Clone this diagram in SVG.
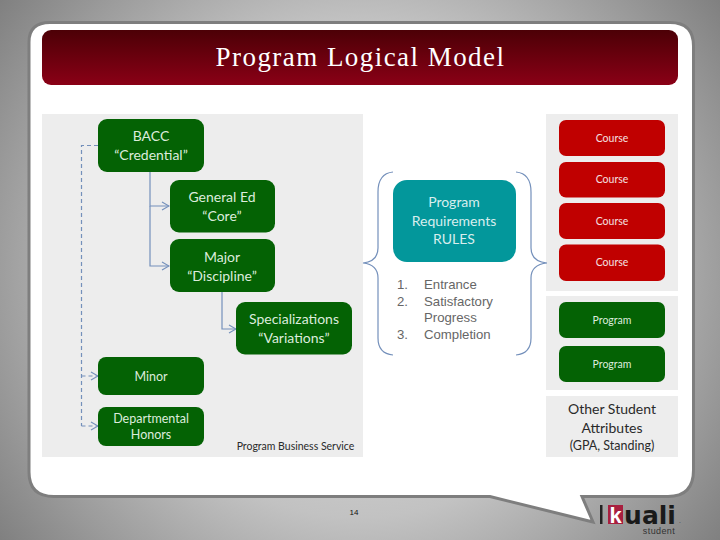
<svg xmlns="http://www.w3.org/2000/svg" width="720" height="540" viewBox="0 0 720 540">
<style>
.g{fill:#046204}.r{fill:#c00000}.p{fill:#ededed}
text{font-family:"Lato","Open Sans","Liberation Sans",sans-serif;text-anchor:middle}
.w{fill:#dcecdc;font-size:14px}.c{fill:#f4e0e0;font-size:10.5px}.cg{fill:#dcecdc;font-size:10.5px}.s{fill:#dcecdc;font-size:12.5px}
.l{font-family:"Liberation Sans",sans-serif;fill:#666;font-size:13.2px;text-anchor:start}
.k{fill:#2a2a2a;text-anchor:middle}
.cn{fill:none;stroke:#7490bb;stroke-width:1.2}
.d{stroke-dasharray:4 3}
</style>
<defs>
<radialGradient id="bg" gradientUnits="userSpaceOnUse" cx="360" cy="270" r="450">
<stop offset="0" stop-color="#e4e4e4"/><stop offset="0.55" stop-color="#c2c2c2"/><stop offset="1" stop-color="#808080"/>
</radialGradient>
<linearGradient id="hd" x1="0" y1="0" x2="0" y2="1"><stop offset="0" stop-color="#4c0006"/><stop offset="1" stop-color="#8a0016"/></linearGradient>
<marker id="a" markerWidth="9" markerHeight="10" refX="8" refY="5" orient="auto" markerUnits="userSpaceOnUse"><path d="M1 1L8 5L1 9" fill="none" stroke="#7490bb" stroke-width="1.2"/></marker>
</defs>
<rect width="720" height="540" fill="url(#bg)"/>
<path id="panel" d="M50 22.500H670Q693.500 22.500 693.500 46V470Q693.500 496.500 668 496.500H582L593 522L490 496.500H54Q29 496.500 29 472V42Q29 22.500 50 22.500Z" fill="#fff" stroke="#7e7e7e" stroke-width="3"/>
<g id="header"><rect x="42" y="30" width="636" height="55" rx="9" fill="url(#hd)"/>
<text x="360.500" y="66" style="font-family:'Liberation Serif',serif;font-size:27px;fill:#fff;letter-spacing:1.45px">Program Logical Model</text></g>
<rect class="p" x="42" y="114" width="321" height="343"/>
<rect class="p" x="546" y="114" width="132" height="177"/>
<rect class="p" x="546" y="296" width="132" height="94"/>
<g id="connectors">
<path class="cn" marker-end="url(#a)" d="M150 172V206H169"/>
<path class="cn" marker-end="url(#a)" d="M150 206V266H169"/>
<path class="cn" marker-end="url(#a)" d="M222 292V329H236"/>
<path class="cn d" d="M98 145.500H81.500V426"/>
<path class="cn d" marker-end="url(#a)" d="M81.500 376H98"/>
<path class="cn d" marker-end="url(#a)" d="M81.500 426H98"/>
<path class="cn" d="M393 172C383 173 378 180 378 192V248C378 257 372 262 363 263C372 264 378 269 378 278V338C378 348 383 354 393 355"/>
<path class="cn" d="M516 172C526 173 531 180 531 192V248C531 257 537 262 547 263C537 264 531 269 531 278V338C531 348 526 354 516 355"/>
</g>
<g id="bacc"><rect class="g" x="98" y="119" width="106" height="53" rx="9"/><text class="w" x="151" y="141">BACC</text><text class="w" x="151" y="160">“Credential”</text></g>
<g id="gened"><rect class="g" x="170" y="180" width="105" height="52.500" rx="9"/><text class="w" x="222" y="202">General Ed</text><text class="w" x="222" y="221">“Core”</text></g>
<g id="major"><rect class="g" x="170" y="239" width="105" height="53" rx="9"/><text class="w" x="222" y="262">Major</text><text class="w" x="222" y="281">“Discipline”</text></g>
<g id="spec"><rect class="g" x="236" y="302" width="116" height="52.500" rx="9"/><text class="w" x="294" y="324">Specializations</text><text class="w" x="294" y="343">“Variations”</text></g>
<g id="minor"><rect class="g" x="98" y="357" width="106" height="38" rx="8"/><text class="s" x="151" y="381">Minor</text></g>
<g id="honors"><rect class="g" x="98" y="407" width="106" height="39" rx="8"/><text class="s" x="151" y="423">Departmental</text><text class="s" x="151" y="439">Honors</text></g>
<text class="k" x="295.500" y="450" style="font-size:10.500px">Program Business Service</text>
<g id="rules"><rect x="393" y="180" width="123" height="82" rx="14" fill="#03979b"/>
<g fill="#d8eeee" style="font-size:14px"><text x="454" y="207">Program</text><text x="454" y="226">Requirements</text><text x="454" y="244">RULES</text></g></g>
<g id="rule-list">
<text class="l" x="397" y="289">1.</text><text class="l" x="424" y="289">Entrance</text>
<text class="l" x="397" y="306">2.</text><text class="l" x="424" y="306">Satisfactory</text>
<text class="l" x="424" y="322">Progress</text>
<text class="l" x="397" y="339">3.</text><text class="l" x="424" y="339">Completion</text></g>
<g id="course1"><rect class="r" x="559" y="120" width="106" height="36" rx="7"/><text class="c" x="612" y="142">Course</text></g>
<g id="course2"><rect class="r" x="559" y="162" width="106" height="35.500" rx="7"/><text class="c" x="612" y="183">Course</text></g>
<g id="course3"><rect class="r" x="559" y="203" width="106" height="36" rx="7"/><text class="c" x="612" y="225">Course</text></g>
<g id="course4"><rect class="r" x="559" y="244.500" width="106" height="36.500" rx="7"/><text class="c" x="612" y="266">Course</text></g>
<g id="program1"><rect class="g" x="559" y="302" width="106" height="36" rx="7"/><text class="cg" x="612" y="324">Program</text></g>
<g id="program2"><rect class="g" x="559" y="346" width="106" height="36" rx="7"/><text class="cg" x="612" y="368">Program</text></g>
<g id="other"><rect class="p" x="546" y="396" width="132" height="61"/>
<text class="k" x="612" y="414" style="font-size:14px">Other Student</text><text class="k" x="612" y="433" style="font-size:14px">Attributes</text><text class="k" x="612" y="450" style="font-size:12.500px">(GPA, Standing)</text></g>
<text x="354" y="515" style="font-size:8px;fill:#111;font-family:'Liberation Sans',sans-serif">14</text>
<g id="logo"><rect x="600" y="505" width="2.500" height="19" fill="#222"/><rect x="608" y="505" width="15" height="19" fill="#a81f3f"/>
<text x="615.500" y="523" style="font-family:'Liberation Sans',sans-serif;font-weight:bold;font-size:22px;fill:#fff">k</text>
<text x="650" y="524" style="font-family:'DejaVu Sans',sans-serif;font-weight:bold;font-size:25px;fill:#1a1a1a">uali</text>
<text x="659" y="534" style="font-family:'Liberation Sans',sans-serif;font-size:9px;fill:#333;letter-spacing:.4px">student</text>
<text x="680" y="523" style="font-size:6px;fill:#333">.</text></g>
</svg>
